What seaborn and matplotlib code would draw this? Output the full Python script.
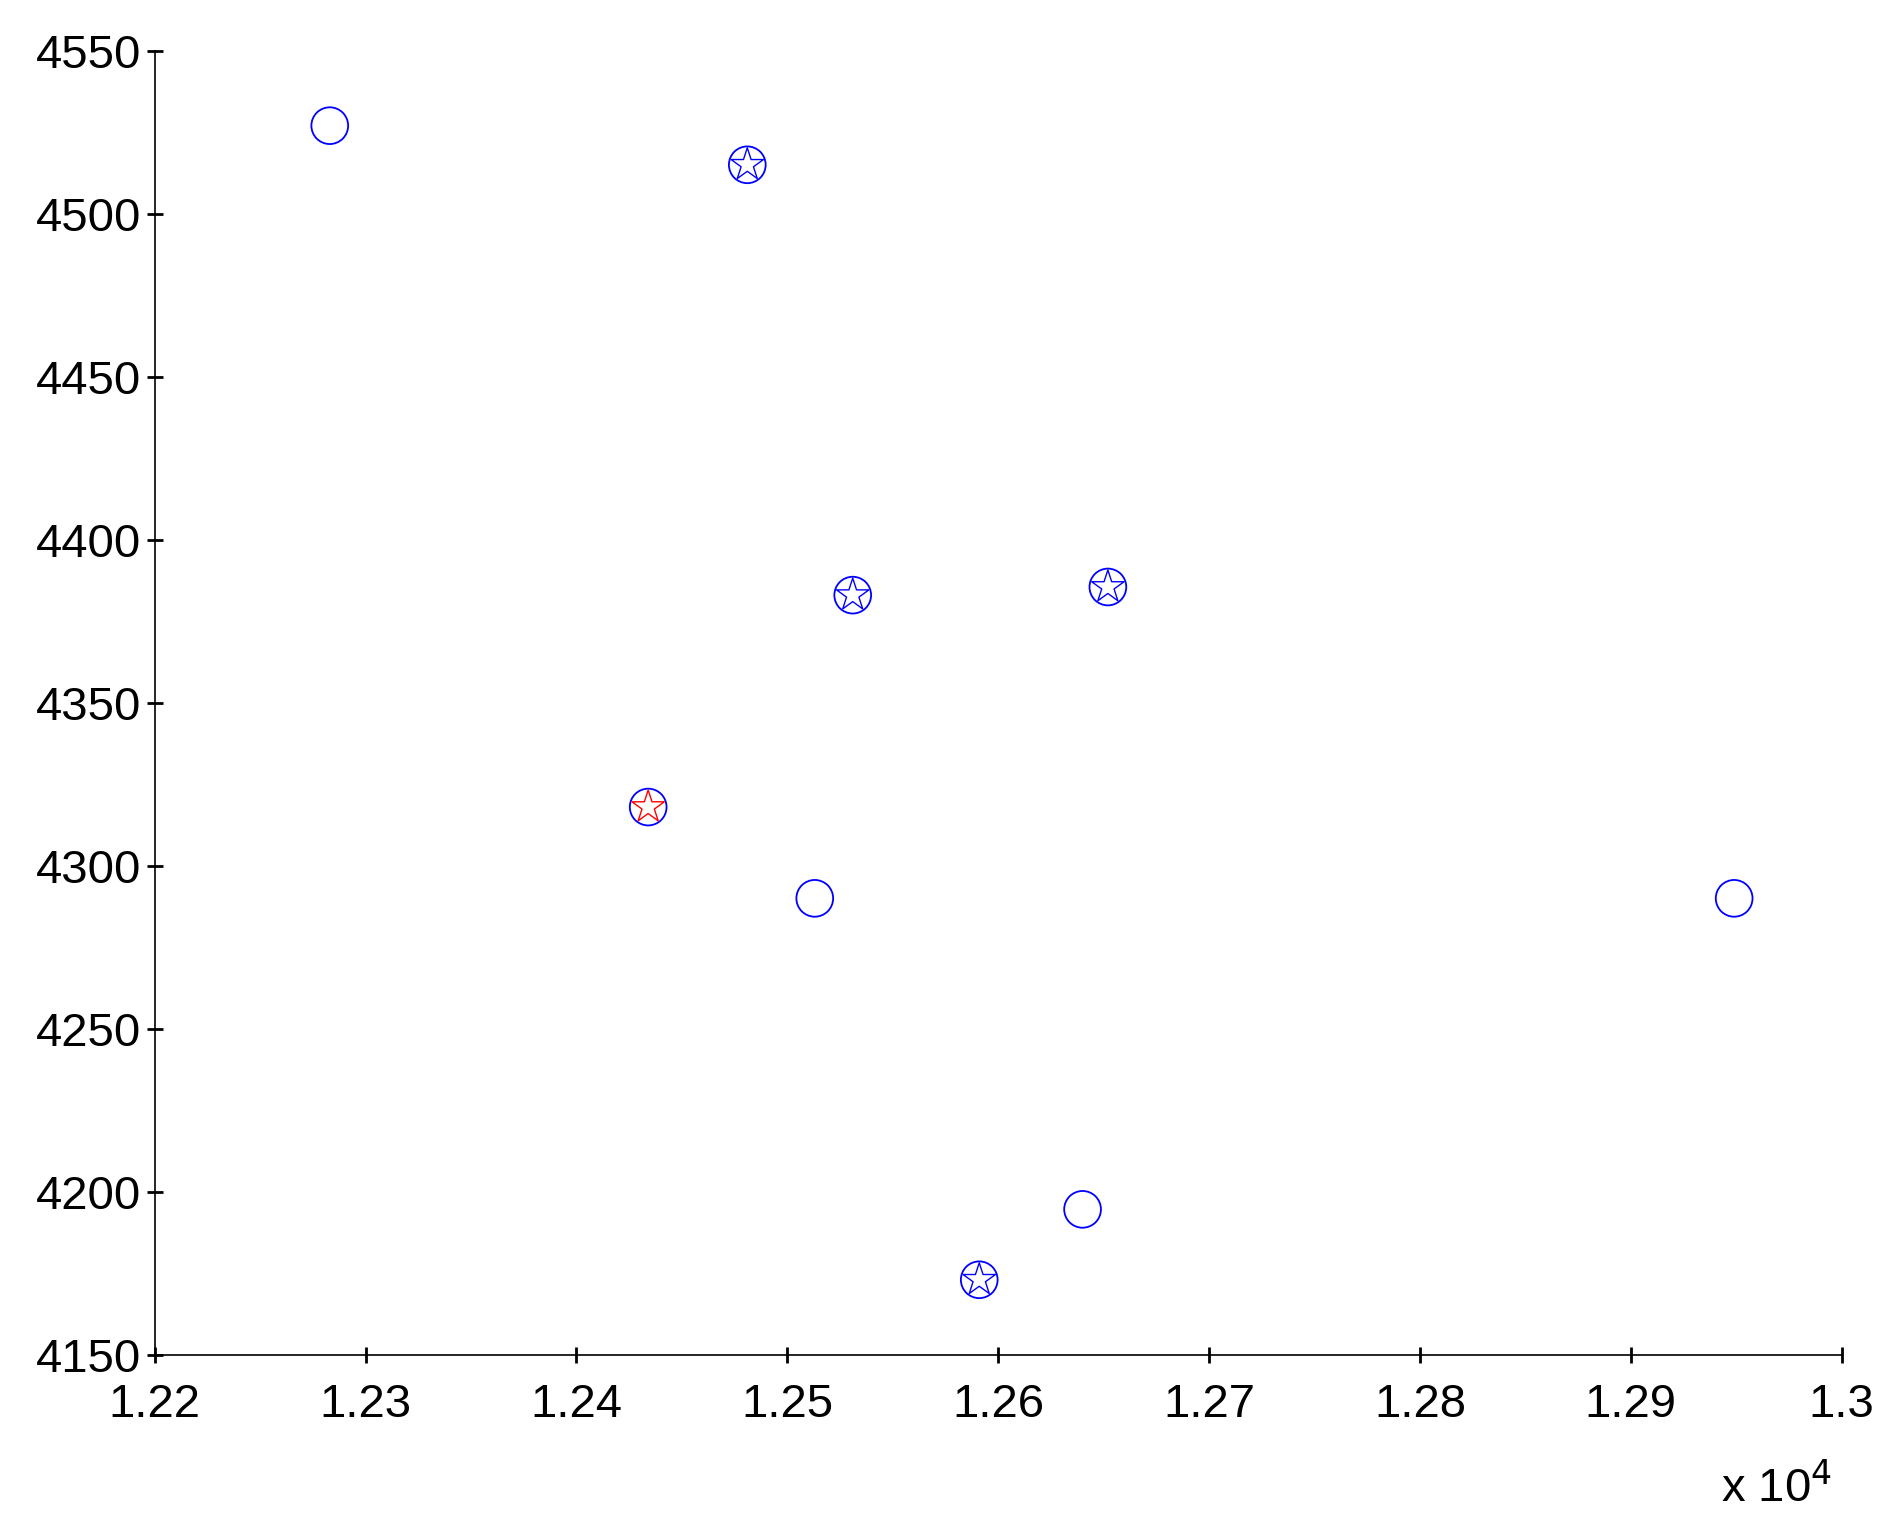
import matplotlib
matplotlib.use("Agg")
import matplotlib.pyplot as plt
import seaborn as sns

circle_x = [12283, 12481, 12531, 12652, 12434, 12513, 12949, 12640, 12591]
circle_y = [4527, 4515, 4383, 4385.5, 4318, 4290, 4290, 4194.6, 4173]
star_x = [12481, 12531, 12652, 12591]
star_y = [4515, 4383, 4385.5, 4173]
red_x = [12434]
red_y = [4318]

sns.set_style("white", {"xtick.bottom": True, "ytick.left": True})
plt.rcParams['font.family'] = ['Arial', 'Liberation Sans', 'DejaVu Sans']

fig = plt.figure(figsize=(18.87, 15.36), dpi=100)
ax = fig.add_axes([0.082, 0.118, 0.894, 0.849])

sns.scatterplot(x=circle_x, y=circle_y, ax=ax, marker='o', s=700,
                facecolors='none', edgecolor='blue', linewidth=1.3)
sns.scatterplot(x=star_x, y=star_y, ax=ax, marker='*', s=600,
                facecolors='none', edgecolor='blue', linewidth=1.0)
sns.scatterplot(x=red_x, y=red_y, ax=ax, marker='*', s=600,
                facecolors='none', edgecolor='red', linewidth=1.0)

ax.set_xlim(12200, 13000)
ax.set_ylim(4150, 4550)
xt = [12200 + 100 * i for i in range(9)]
ax.set_xticks(xt)
ax.set_xticklabels(['1.22', '1.23', '1.24', '1.25', '1.26', '1.27', '1.28', '1.29', '1.3'])
ax.set_yticks(list(range(4150, 4551, 50)))
ax.tick_params(axis='both', labelsize=34, direction='inout', length=12, width=2,
               color='black', labelcolor='black')
ax.tick_params(axis='x', pad=14)
ax.tick_params(axis='y', pad=4)
for s in ['top', 'right']:
    ax.spines[s].set_visible(False)
for s in ['left', 'bottom']:
    ax.spines[s].set_color('black')
    ax.spines[s].set_linewidth(1.2)
fig.text(0.912, 0.022, r'x 10$^{4}$', fontsize=34, color='black')
fig.savefig('out.png', dpi=100, facecolor='white')
